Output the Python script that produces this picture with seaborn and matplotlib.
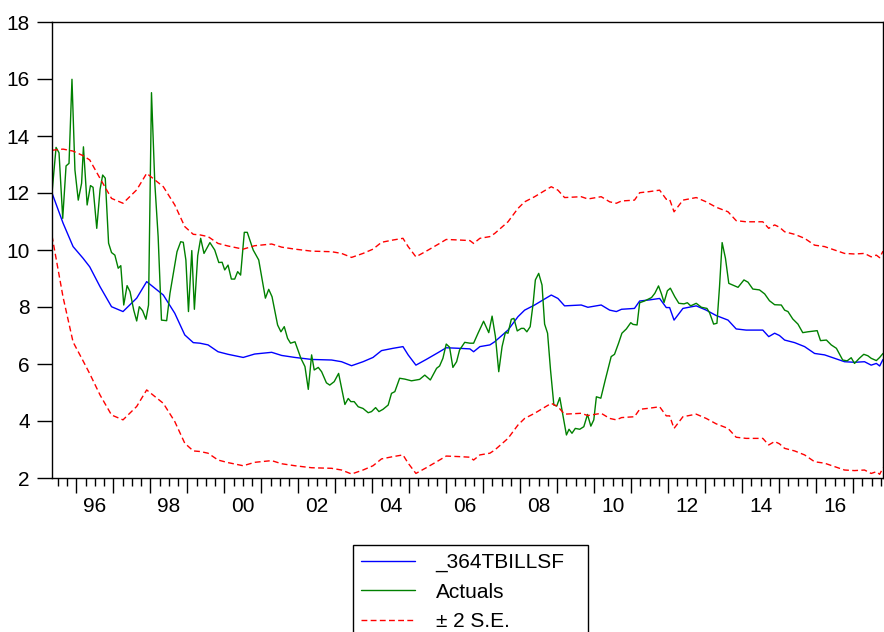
import numpy as np
import pandas as pd
import matplotlib
matplotlib.use("Agg")
import matplotlib.pyplot as plt
import seaborn as sns
from matplotlib.lines import Line2D

# ---------------- data (decimal years) ----------------
fc_dates = [1995.34, 1995.64, 1995.91, 1996.18, 1996.36, 1996.64, 1996.95, 1997.26, 1997.63, 1997.90,
            1998.35, 1998.66, 1998.93, 1999.16, 1999.34, 1999.56, 1999.83, 2000.10, 2000.51, 2000.82,
            2001.28, 2001.55, 2001.91, 2002.36, 2002.90, 2003.17, 2003.44, 2003.75, 2004.02, 2004.25,
            2004.56, 2004.83, 2004.97, 2005.18, 2005.46, 2005.78, 2006.00, 2006.36, 2006.64, 2006.74,
            2006.91, 2007.18, 2007.31, 2007.67, 2007.94, 2008.12, 2008.39, 2008.62, 2008.84, 2009.02,
            2009.20, 2009.65, 2009.83, 2010.19, 2010.42, 2010.60, 2010.74, 2011.09, 2011.23, 2011.50,
            2011.77, 2011.95, 2012.04, 2012.16, 2012.40, 2012.76, 2013.03, 2013.30, 2013.62, 2013.84,
            2014.11, 2014.38, 2014.56, 2014.72, 2014.88, 2015.01, 2015.15, 2015.42, 2015.69, 2015.96,
            2016.23, 2016.50, 2016.77, 2017.04, 2017.31, 2017.49, 2017.63, 2017.72, 2017.81]
fc_values = [12.00, 10.94, 10.12, 9.71, 9.41, 8.71, 8.01, 7.84, 8.31, 8.89,
             8.42, 7.78, 7.02, 6.75, 6.73, 6.67, 6.43, 6.34, 6.23, 6.35,
             6.41, 6.30, 6.23, 6.16, 6.14, 6.08, 5.94, 6.08, 6.23, 6.47,
             6.55, 6.61, 6.32, 5.96, 6.16, 6.40, 6.57, 6.55, 6.53, 6.43,
             6.61, 6.67, 6.78, 7.19, 7.66, 7.89, 8.07, 8.25, 8.42, 8.30,
             8.04, 8.07, 7.99, 8.07, 7.89, 7.84, 7.92, 7.95, 8.21, 8.25,
             8.30, 7.98, 7.98, 7.54, 7.95, 8.04, 7.89, 7.70, 7.54, 7.23,
             7.19, 7.19, 7.19, 6.96, 7.08, 7.00, 6.84, 6.75, 6.61, 6.37,
             6.32, 6.20, 6.08, 6.06, 6.08, 5.96, 6.02, 5.93, 6.16]
se2_width = [1.50, 2.60, 3.35, 3.60, 3.75, 3.80, 3.80, 3.80, 3.80, 3.80,
             3.80, 3.80, 3.80, 3.80, 3.80, 3.80, 3.80, 3.80, 3.80, 3.80,
             3.80, 3.80, 3.80, 3.80, 3.80, 3.80, 3.80, 3.80, 3.80, 3.80,
             3.80, 3.80, 3.80, 3.80, 3.80, 3.80, 3.80, 3.80, 3.80, 3.80,
             3.80, 3.80, 3.80, 3.80, 3.80, 3.80, 3.80, 3.80, 3.80, 3.80,
             3.80, 3.80, 3.80, 3.80, 3.80, 3.80, 3.80, 3.80, 3.80, 3.80,
             3.80, 3.80, 3.80, 3.80, 3.80, 3.80, 3.80, 3.80, 3.80, 3.80,
             3.80, 3.80, 3.80, 3.80, 3.80, 3.80, 3.80, 3.80, 3.80, 3.80,
             3.80, 3.80, 3.80, 3.80, 3.80, 3.80, 3.80, 3.80, 3.80]

act_dates = [1995.34, 1995.45, 1995.53, 1995.63, 1995.72, 1995.80, 1995.88, 1995.96, 1996.05, 1996.14,
             1996.19, 1996.29, 1996.38, 1996.45, 1996.55, 1996.64, 1996.71, 1996.78, 1996.87, 1996.95,
             1997.04, 1997.13, 1997.20, 1997.28, 1997.37, 1997.45, 1997.55, 1997.63, 1997.70, 1997.79,
             1997.88, 1997.95, 1998.03, 1998.12, 1998.21, 1998.30, 1998.44, 1998.53, 1998.62, 1998.72,
             1998.82, 1998.89, 1998.96, 1999.03, 1999.12, 1999.19, 1999.28, 1999.36, 1999.45, 1999.61,
             1999.74, 1999.85, 1999.94, 2000.01, 2000.10, 2000.19, 2000.28, 2000.36, 2000.44, 2000.54,
             2000.62, 2000.78, 2000.93, 2001.00, 2001.11, 2001.20, 2001.29, 2001.44, 2001.53, 2001.62,
             2001.71, 2001.79, 2001.91, 2002.07, 2002.18, 2002.27, 2002.36, 2002.43, 2002.54, 2002.63,
             2002.76, 2002.85, 2002.97, 2003.09, 2003.26, 2003.35, 2003.42, 2003.51, 2003.62, 2003.75,
             2003.89, 2003.98, 2004.09, 2004.18, 2004.29, 2004.43, 2004.52, 2004.61, 2004.74, 2004.88,
             2005.06, 2005.28, 2005.42, 2005.57, 2005.74, 2005.82, 2005.91, 2006.00, 2006.09, 2006.18,
             2006.28, 2006.36, 2006.50, 2006.64, 2006.74, 2006.86, 2007.01, 2007.15, 2007.24, 2007.33,
             2007.42, 2007.51, 2007.60, 2007.67, 2007.76, 2007.83, 2007.92, 2008.03, 2008.10, 2008.18,
             2008.27, 2008.35, 2008.41, 2008.50, 2008.59, 2008.66, 2008.74, 2008.82, 2008.91, 2008.99,
             2009.07, 2009.13, 2009.25, 2009.32, 2009.40, 2009.49, 2009.61, 2009.72, 2009.82, 2009.91,
             2009.99, 2010.06, 2010.18, 2010.30, 2010.46, 2010.55, 2010.66, 2010.75, 2010.87, 2010.99,
             2011.05, 2011.16, 2011.23, 2011.36, 2011.55, 2011.64, 2011.74, 2011.82, 2011.89, 2011.98,
             2012.06, 2012.18, 2012.29, 2012.43, 2012.52, 2012.61, 2012.76, 2012.90, 2013.05, 2013.12,
             2013.23, 2013.32, 2013.39, 2013.46, 2013.55, 2013.64, 2013.75, 2013.89, 2014.05, 2014.16,
             2014.29, 2014.47, 2014.61, 2014.74, 2014.88, 2015.06, 2015.15, 2015.24, 2015.37, 2015.51,
             2015.64, 2015.78, 2016.03, 2016.12, 2016.28, 2016.41, 2016.55, 2016.72, 2016.84, 2016.95,
             2017.04, 2017.17, 2017.29, 2017.40, 2017.49, 2017.63, 2017.72, 2017.81]
act_values = [12.00, 13.60, 13.41, 11.11, 12.95, 13.04, 15.99, 12.81, 11.75, 12.34,
              13.62, 11.58, 12.26, 12.20, 10.76, 12.13, 12.63, 12.52, 10.24, 9.91,
              9.82, 9.36, 9.45, 8.07, 8.75, 8.54, 7.89, 7.51, 8.01, 7.87,
              7.57, 8.07, 15.52, 12.34, 10.47, 7.54, 7.52, 8.48, 9.18, 9.94,
              10.29, 10.27, 9.65, 7.84, 9.98, 7.92, 9.80, 10.41, 9.88, 10.26,
              10.00, 9.56, 9.57, 9.30, 9.47, 8.98, 8.98, 9.24, 9.12, 10.62,
              10.62, 10.00, 9.65, 9.12, 8.31, 8.62, 8.36, 7.37, 7.13, 7.31,
              6.90, 6.73, 6.78, 6.20, 5.91, 5.11, 6.32, 5.79, 5.88, 5.73,
              5.34, 5.26, 5.38, 5.67, 4.58, 4.79, 4.68, 4.68, 4.50, 4.44,
              4.29, 4.33, 4.47, 4.33, 4.41, 4.56, 4.97, 5.03, 5.50, 5.47,
              5.41, 5.46, 5.61, 5.44, 5.85, 5.93, 6.20, 6.70, 6.59, 5.88,
              6.08, 6.49, 6.76, 6.73, 6.73, 7.08, 7.50, 7.10, 7.68, 6.96,
              5.73, 6.61, 7.11, 7.08, 7.57, 7.60, 7.16, 7.25, 7.25, 7.13,
              7.31, 8.13, 8.95, 9.18, 8.77, 7.40, 7.08, 5.79, 4.56, 4.53,
              4.82, 4.39, 3.51, 3.71, 3.57, 3.74, 3.71, 3.80, 4.23, 3.82,
              4.04, 4.85, 4.80, 5.44, 6.26, 6.34, 6.73, 7.08, 7.23, 7.45,
              7.39, 7.37, 8.15, 8.21, 8.33, 8.48, 8.74, 8.46, 8.16, 8.57,
              8.66, 8.36, 8.13, 8.11, 8.15, 8.04, 8.13, 7.99, 7.95, 7.80,
              7.40, 7.43, 8.72, 10.26, 9.71, 8.83, 8.77, 8.69, 8.95, 8.87,
              8.63, 8.60, 8.46, 8.22, 8.08, 8.07, 7.89, 7.84, 7.58, 7.40,
              7.10, 7.13, 7.17, 6.82, 6.84, 6.67, 6.55, 6.14, 6.11, 6.22,
              6.02, 6.20, 6.34, 6.29, 6.20, 6.12, 6.23, 6.37]

label_years = [1996, 1998, 2000, 2002, 2004, 2006, 2008, 2010, 2012, 2014, 2016]
year_labels = ["96", "98", "00", "02", "04", "06", "08", "10", "12", "14", "16"]
y_ticks = [2, 4, 6, 8, 10, 12, 14, 16, 18]
series_names = ["_364TBILLSF", "Actuals", "\u00b1 2 S.E."]

# ---------------- style ----------------
sns.set_style("ticks")
plt.rcParams["font.family"] = ["Liberation Sans", "DejaVu Sans"]
plt.rcParams["text.color"] = "black"
plt.rcParams["xtick.color"] = "black"
plt.rcParams["ytick.color"] = "black"

C_FC, C_ACT, C_SE = "#0000FF", "#008000", "#FF0000"
DASH = (0, (4.2, 2.4))
FS = 15

fc = np.array(fc_values)
w = np.array(se2_width)
df_fc = pd.DataFrame({"date": fc_dates, "fc": fc, "upper": fc + w, "lower": fc - w})
df_act = pd.DataFrame({"date": act_dates, "act": act_values})

fig = plt.figure(figsize=(8.84, 6.32), dpi=100)
ax = fig.add_axes([52 / 884, 1 - 478 / 632, 831 / 884, 456 / 632])

sns.lineplot(data=df_fc, x="date", y="fc", ax=ax, color=C_FC, linewidth=1.0,
             estimator=None, sort=False)
sns.lineplot(data=df_act, x="date", y="act", ax=ax, color=C_ACT, linewidth=1.0,
             estimator=None, sort=False)
sns.lineplot(data=df_fc, x="date", y="upper", ax=ax, color=C_SE, linewidth=1.0,
             linestyle=DASH, estimator=None, sort=False)
sns.lineplot(data=df_fc, x="date", y="lower", ax=ax, color=C_SE, linewidth=1.0,
             linestyle=DASH, estimator=None, sort=False)

ax.set_xlim(fc_dates[0], fc_dates[-1])
ax.set_ylim(2, 18)
ax.set_xlabel("")
ax.set_ylabel("")

# y axis
ax.set_yticks(y_ticks)
ax.set_yticklabels([str(v) for v in y_ticks])
ax.tick_params(axis="y", which="major", direction="out", length=11, width=1,
               pad=5, labelsize=FS, left=True, right=False, colors="black")

# x axis: yearly long ticks, quarterly short ticks, labels at mid-year of even years
major_x = list(range(1996, 2018))
minor_x = [1995.5, 1995.75]
for yr in range(1996, 2018):
    for q in (0.25, 0.5, 0.75):
        if yr + q <= fc_dates[-1]:
            minor_x.append(yr + q)
minor_lbl = []
for v in minor_x:
    lab = ""
    for yy, tl in zip(label_years, year_labels):
        if abs(v - (yy + 0.5)) < 1e-6:
            lab = tl
    minor_lbl.append(lab)
ax.set_xticks(major_x)
ax.set_xticklabels([""] * len(major_x))
ax.set_xticks(minor_x, minor=True)
ax.set_xticklabels(minor_lbl, minor=True)
ax.tick_params(axis="x", which="major", direction="out", length=11, width=1,
               bottom=True, top=False, colors="black")
ax.tick_params(axis="x", which="minor", direction="out", length=6, width=1,
               bottom=True, top=False, labelsize=FS, pad=8, colors="black")

for s in ax.spines.values():
    s.set_visible(True)
    s.set_color("black")
    s.set_linewidth(1.0)

# legend
handles = [Line2D([], [], color=C_FC, linewidth=1.0),
           Line2D([], [], color=C_ACT, linewidth=1.0),
           Line2D([], [], color=C_SE, linewidth=1.0, linestyle=DASH)]
leg = fig.legend(handles, series_names, loc="upper left",
                 bbox_to_anchor=(353 / 884, 1 - 546 / 632, 235 / 884, 0.001),
                 mode="expand", frameon=True, fancybox=False, framealpha=1,
                 edgecolor="black", fontsize=FS, handlelength=2.6, handletextpad=1.0,
                 borderpad=0.36, labelspacing=0.5, borderaxespad=0)
leg.get_frame().set_linewidth(1.0)
for t in leg.get_texts():
    t.set_color("black")

fig.savefig("out.png", dpi=100)
